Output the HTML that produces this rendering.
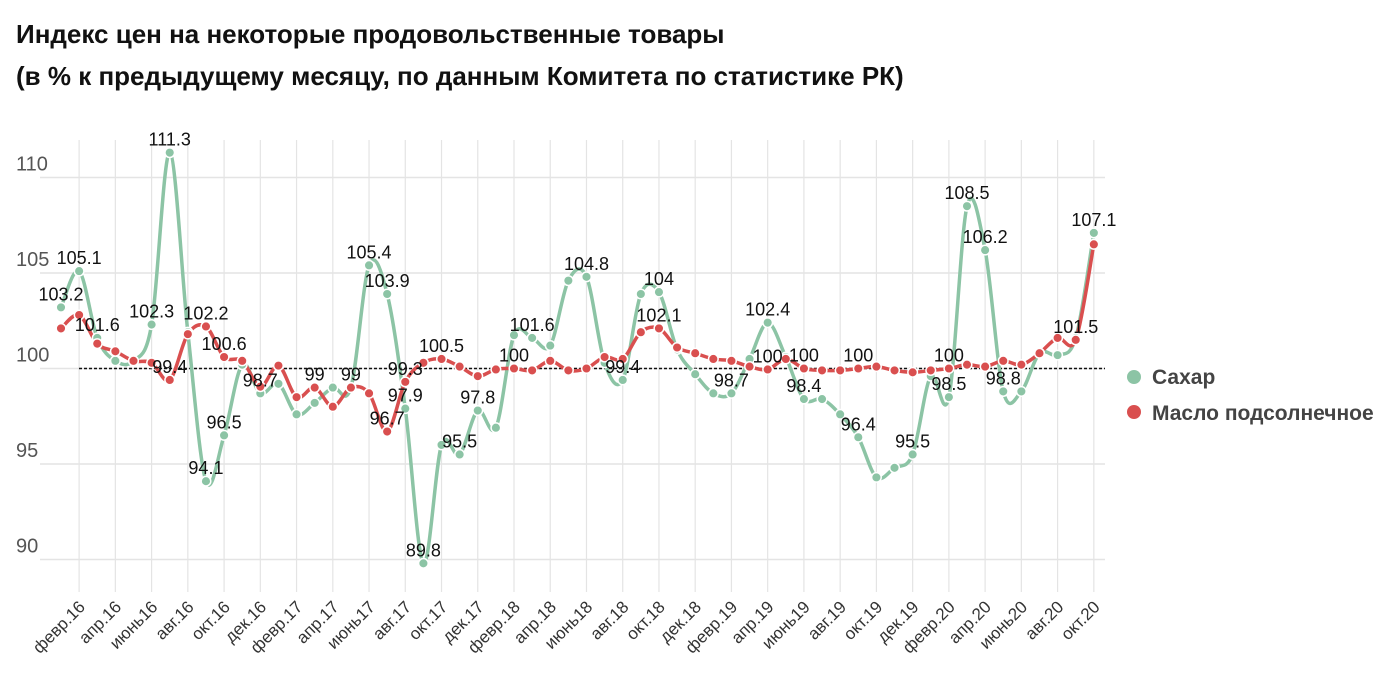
<!DOCTYPE html>
<html><head><meta charset="utf-8"><style>
body{margin:0;background:#fff;font-family:"Liberation Sans",sans-serif}
</style></head><body>
<svg id="c" width="1394" height="684" xmlns="http://www.w3.org/2000/svg" style="font-family:'Liberation Sans',sans-serif">
<text x="16" y="43" font-size="26" font-weight="bold" fill="#111">Индекс цен на некоторые продовольственные товары</text>
<text x="16" y="85" font-size="26" font-weight="bold" fill="#111">(в % к предыдущему месяцу, по данным Комитета по статистике РК)</text>
<g id="grid"></g><g id="lines"></g><g id="pts"></g><g id="lbls"></g><g id="xax"></g>
<g>
<circle cx="1134" cy="377" r="7" fill="#8cc4a5"/>
<text x="1152" y="384" font-size="21" font-weight="bold" fill="#444">Сахар</text>
<circle cx="1134" cy="412" r="7" fill="#d94f4f"/>
<text x="1152" y="420" font-size="21" font-weight="bold" fill="#444">Масло подсолнечное</text>
</g>
</svg>
<script>
const months = ["янв.","февр.","март","апр.","май","июнь","июль","авг.","сент.","окт.","нояб.","дек."];
const startYear = 16;
const sugar = [103.2,105.1,101.6,100.4,100.4,102.3,111.3,101.9,94.1,96.5,100.2,98.7,99.2,97.6,98.2,99.0,99.0,105.4,103.9,97.9,89.8,96.0,95.5,97.8,96.9,101.75,101.6,101.2,104.6,104.8,100.3,99.4,103.9,104.0,101.0,99.7,98.7,98.7,100.5,102.4,100.6,98.4,98.4,97.6,96.4,94.3,94.8,95.5,99.6,98.5,108.5,106.2,98.8,98.8,100.8,100.7,101.6,107.1];
const oil = [102.1,102.8,101.3,100.9,100.4,100.3,99.4,101.8,102.2,100.6,100.4,99.05,100.15,98.5,99.0,98.0,99.0,98.7,96.7,99.3,100.3,100.5,100.1,99.6,99.95,100.0,99.9,100.4,99.9,100.0,100.6,100.5,101.9,102.1,101.1,100.8,100.5,100.4,100.1,99.95,100.5,100.0,99.9,99.9,100.0,100.1,99.9,99.8,99.9,100.0,100.2,100.1,100.4,100.2,100.8,101.6,101.5,106.5];
const sugarLabels = {0:"103.2",1:"105.1",2:"101.6",5:"102.3",6:"111.3",8:"94.1",9:"96.5",11:"98.7",16:"99",17:"105.4",18:"103.9",19:"97.9",20:"89.8",22:"95.5",23:"97.8",26:"101.6",29:"104.8",31:"99.4",33:"104",37:"98.7",39:"102.4",41:"98.4",44:"96.4",47:"95.5",49:"98.5",50:"108.5",51:"106.2",52:"98.8",57:"107.1"};
const oilLabels = {6:"99.4",8:"102.2",9:"100.6",14:"99",18:"96.7",19:"99.3",21:"100.5",25:"100",33:"102.1",39:"100",41:"100",44:"100",49:"100",56:"101.5"};
const yTicks = [90,95,100,105,110];

const NS="http://www.w3.org/2000/svg";
const X=i=>61+i*18.12;
const Y=v=>368.5-(v-100)*19.1;
function mk(tag,attrs,parent){const e=document.createElementNS(NS,tag);for(const k in attrs)e.setAttribute(k,attrs[k]);document.getElementById(parent).appendChild(e);return e;}
const n=sugar.length;
yTicks.forEach(t=>{
  const l=mk('line',{x1:40,x2:1105,y1:Y(t),y2:Y(t),stroke:'#e4e4e4','stroke-width':1.5},'grid');
  
  
  const tx=mk('text',{x:16,y:Y(t)-7,'font-size':20,fill:'#555'},'grid');
  tx.textContent=t;
  
  
});
for(let i=1;i<n;i+=2){
  const l=mk('line',{x1:X(i),x2:X(i),y1:140,y2:592,stroke:'#e4e4e4','stroke-width':1.2},'grid');
  
  
  const m=months[i%12]+(startYear+Math.floor(i/12));
  const tx=mk('text',{x:0,y:0,'font-size':17,fill:'#333','text-anchor':'end',transform:`translate(${X(i)+7},${608}) rotate(-45)`},'xax');
  tx.textContent=m;
  
  
}
const ref=mk('line',{x1:79,x2:1105,y1:Y(100),y2:Y(100),stroke:'#111','stroke-width':1.5,'stroke-dasharray':'3,2'},'grid');


function path(vals){
  const p=vals.map((v,i)=>[X(i),Y(v)]);
  let d=`M${p[0][0]},${p[0][1]}`;
  for(let i=0;i<p.length-1;i++){
    const p0=p[i-1]||p[i],p1=p[i],p2=p[i+1],p3=p[i+2]||p2;
    const t=1/6;
    d+=` C${p1[0]+(p2[0]-p0[0])*t},${p1[1]+(p2[1]-p0[1])*t} ${p2[0]-(p3[0]-p1[0])*t},${p2[1]-(p3[1]-p1[1])*t} ${p2[0]},${p2[1]}`;
  }
  return d;
}
[[sugar,'#8cc4a5','sugar',sugarLabels],[oil,'#d94f4f','oil',oilLabels]].forEach(([vals,col,nm,labs])=>{
  const pl=mk('path',{d:path(vals),fill:'none',stroke:col,'stroke-width':3.5,'stroke-linejoin':'round'},'lines');
  
  
  vals.forEach((v,i)=>{
    const c=mk('circle',{cx:X(i),cy:Y(v),r:4.8,fill:col,stroke:'#fff','stroke-width':1.5},'pts');
    
    
  });
  for(const k in labs){
    const i=+k;
    const tx=mk('text',{x:X(i),y:Y(vals[i])-7,'font-size':18,fill:'#111','text-anchor':'middle'},'lbls');
    tx.textContent=labs[k];
    
    
  }
});
</script>
</body></html>
